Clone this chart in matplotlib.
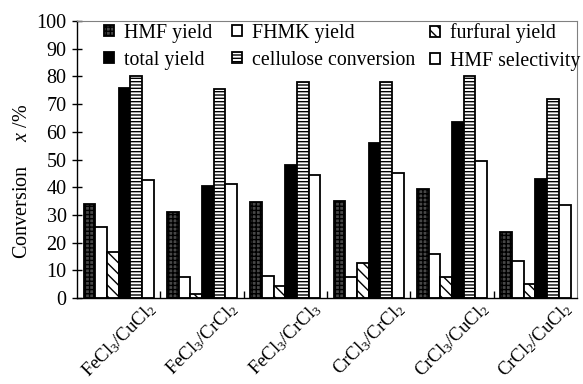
import numpy as np
import matplotlib.pyplot as plt

plt.rcParams['font.family'] = 'Liberation Serif'
plt.rcParams['mathtext.fontset'] = 'custom'
plt.rcParams['mathtext.it'] = 'Liberation Serif:italic'
plt.rcParams['mathtext.rm'] = 'Liberation Serif'
plt.rcParams['hatch.linewidth'] = 1.0

categories = [r'FeCl$_3$/CuCl$_2$', r'FeCl$_3$/CrCl$_2$', r'FeCl$_3$/CrCl$_3$',
              r'CrCl$_3$/CrCl$_2$', r'CrCl$_3$/CuCl$_2$', r'CrCl$_2$/CuCl$_2$']
hmf_yield = [34, 31, 34.5, 35, 39.5, 24]
fhmk_yield = [25.5, 7.5, 8, 7.5, 16, 13.5]
furfural_yield = [16.5, 1.5, 4.5, 12.5, 7.5, 5]
total_yield = [76, 40.5, 48, 56, 63.5, 43]
cellulose_conv = [80, 75.5, 78, 78, 80, 72]
hmf_select = [42.5, 41, 44.5, 45, 49.5, 33.5]

series = [
    ('HMF yield', hmf_yield, dict(facecolor='#474747', hatch='++++')),
    ('FHMK yield', fhmk_yield, dict(facecolor='white')),
    ('furfural yield', furfural_yield, dict(facecolor='white', hatch='\\\\\\')),
    ('total yield', total_yield, dict(facecolor='black')),
    ('cellulose conversion', cellulose_conv, dict(facecolor='white', hatch='-----')),
    ('HMF selectivity', hmf_select, dict(facecolor='white')),
]

fig = plt.figure(figsize=(5.83, 3.84), dpi=100)
ax = fig.add_axes([0.132, 0.224, 0.858, 0.721])

x = np.arange(len(categories))
w = 0.14
bars = {}
for i, (name, vals, style) in enumerate(series):
    bars[name] = ax.bar(x + (i - 2.5) * w, vals, w, edgecolor='black', linewidth=1.3,
                        label=name, **style)

ax.set_xlim(-0.5, 5.5)
ax.set_ylim(0, 100)
ax.set_yticks(np.arange(0, 101, 10))
ax.tick_params(axis='y', labelsize=14.5, direction='inout', length=7, width=1, pad=4)
ax.set_xticks(x)
ax.set_xticklabels(categories, rotation=45, ha='center', va='top', fontsize=13.5)
ax.tick_params(axis='x', which='major', length=0, pad=1)
ax.set_xticks(np.arange(0.5, 5, 1), minor=True)
ax.tick_params(axis='x', which='minor', direction='in', length=5, width=1)
ax.set_ylabel('Conversion     $x$ /%', fontsize=14.5)
ax.yaxis.set_label_coords(-0.09, 0.42)

for s in ['top', 'right']:
    ax.spines[s].set_color('#808080')
ax.spines['left'].set_linewidth(1)
ax.spines['bottom'].set_linewidth(1)

# legend in two parts so the third column sits where the reference has it
leg_kw = dict(loc='upper left', frameon=False, fontsize=14.3,
              handlelength=0.5, handleheight=0.5, handletextpad=0.5,
              labelspacing=0.42, borderaxespad=0)
left_names = ['HMF yield', 'total yield', 'FHMK yield', 'cellulose conversion']
right_names = ['furfural yield', 'HMF selectivity']
leg1 = ax.legend([bars[n] for n in left_names], left_names, ncol=2,
                 bbox_to_anchor=(0.038, 1.02), columnspacing=1.0, **leg_kw)
ax.add_artist(leg1)
ax.legend([bars[n] for n in right_names], right_names, ncol=1,
          bbox_to_anchor=(0.69, 1.02), **leg_kw)

fig.savefig('out.png', dpi=100)
